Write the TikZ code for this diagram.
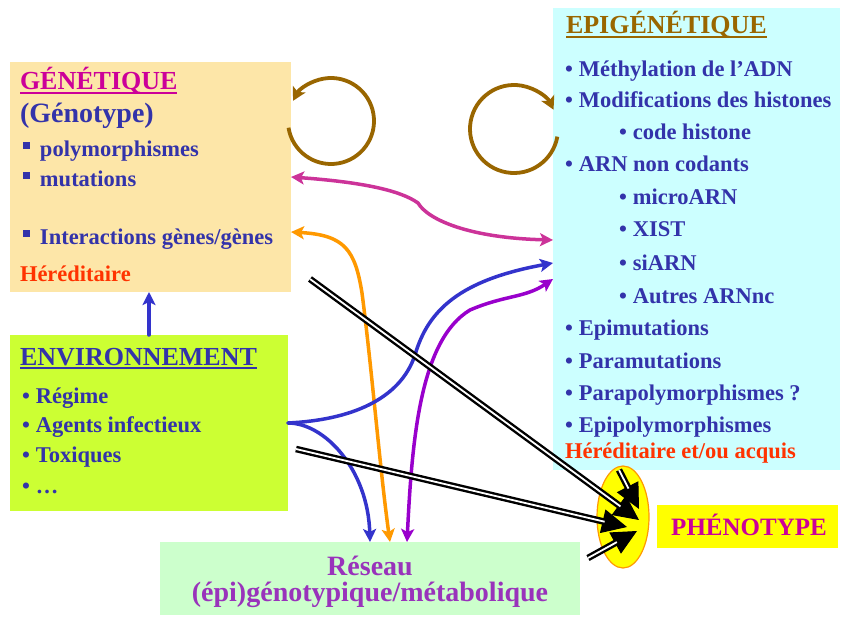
\documentclass[tikz,border=0pt]{standalone}
\usepackage{fontspec}
\setmainfont{Liberation Serif}
\usetikzlibrary{arrows.meta,shapes.geometric,calc}

% box fills
\definecolor{genfill}{RGB}{253,230,168}
\definecolor{epifill}{RGB}{204,255,255}
\definecolor{envfill}{RGB}{204,255,51}
\definecolor{resfill}{RGB}{204,255,204}
\definecolor{phenfill}{RGB}{255,255,0}
% text colours
\definecolor{txtblue}{RGB}{51,51,170}
\definecolor{txtred}{RGB}{255,51,0}
\definecolor{txtmag}{RGB}{204,0,153}
\definecolor{txtbrown}{RGB}{153,102,0}
\definecolor{txtpurple}{RGB}{153,51,187}
% connector colours
\definecolor{arrblue}{RGB}{51,51,204}
\definecolor{arrorange}{RGB}{255,153,0}
\definecolor{arrpink}{RGB}{204,51,153}
\definecolor{arrpurple}{RGB}{153,0,204}
\definecolor{arrbrown}{RGB}{153,102,0}
\definecolor{ellborder}{RGB}{255,153,0}

% fonts
\newcommand\diaghead{\fontsize{26pt}{30pt}\selectfont\bfseries}
\newcommand\diagbig{\fontsize{28pt}{32pt}\selectfont\bfseries}
\newcommand\diagitem{\fontsize{22.5pt}{26pt}\selectfont\bfseries}
\newcommand\diagphen{\fontsize{25pt}{30pt}\selectfont\bfseries}
% bullets
\newcommand\itembul{•\hspace{6pt}}
\newcommand\sqbul{\rule[7.5pt]{7pt}{7pt}\hspace{10pt}}

\tikzset{
  box/.style={anchor=north west, inner sep=0pt, outer sep=0pt, draw=none},
  lbl/.style={anchor=base west, inner sep=0pt, outer sep=0pt},
  clbl/.style={anchor=base, inner sep=0pt, outer sep=0pt},
  ul/.style={line width=1.6pt},
  colarr/.style={line width=3.5pt, line cap=round,
    arrows={-Stealth[length=13pt,width=13pt,inset=3pt]}},
  twoarr/.style={line width=3.5pt,
    arrows={Stealth[length=13pt,width=13pt,inset=3pt]-Stealth[length=13pt,width=13pt,inset=3pt]}},
  loopdir/.style={line width=3.8pt, draw=arrbrown,
    arrows={-Stealth[length=13pt,width=14pt,inset=3pt]}},
  blkhead/.style={line width=1pt, draw=black,
    arrows={-Triangle[length=25pt,width=24pt]}},
  blkline/.style={draw=black, double=white, double distance=1.8pt,
    line width=2.4pt, shorten >=23pt},
}

\begin{document}
\begin{tikzpicture}[x=1pt,y=-1pt]
\useasboundingbox (0,0) rectangle (842,617);
\fill[white] (0,0) rectangle (842,617);

% ---- boxes ----
\node[box, fill=genfill, minimum width=281pt, minimum height=230pt] (gen) at (10,62) {};
\node[box, fill=epifill, minimum width=287pt, minimum height=462pt] (epi) at (553,8) {};
\node[box, fill=envfill, minimum width=278pt, minimum height=176pt] (env) at (10,335) {};
\node[box, fill=resfill, minimum width=420pt, minimum height=73pt] (res) at (160,542) {};
\node[box, fill=phenfill, minimum width=181pt, minimum height=43pt] (phen) at (657,505) {};
\node[ellipse, draw=ellborder, fill=phenfill, line width=1.2pt, inner sep=0pt,
      minimum width=52pt, minimum height=102pt] (ell) at (623,517) {};

% ---- GENETIQUE ----
\node[lbl, font=\diaghead, text=txtmag] (genT) at (20,90) {GÉNÉTIQUE};
\draw[ul, txtmag] ([yshift=-3pt]genT.base west) -- ([yshift=-3pt]genT.base east);
\node[lbl, font=\diagbig, text=txtblue] (genS) at (20,123) {(Génotype)};
\node[lbl, font=\diagitem, text=txtblue] (g1) at (23,157) {\sqbul polymorphismes};
\node[lbl, font=\diagitem, text=txtblue] (g2) at (23,187) {\sqbul mutations};
\node[lbl, font=\diagitem, text=txtblue] (g3) at (23,245) {\sqbul Interactions gènes/gènes};
\node[lbl, font=\diagitem, text=txtred] (g4) at (20,282) {Héréditaire};

% ---- EPIGENETIQUE ----
\node[lbl, font=\diaghead, text=txtbrown] (epiT) at (566,34) {EPIGÉNÉTIQUE};
\draw[ul, txtbrown] ([yshift=-3pt]epiT.base west) -- ([yshift=-3pt]epiT.base east);
\begin{scope}[every node/.style={lbl, font=\diagitem, text=txtblue}]
\node (e1)  at (565,77)  {\itembul Méthylation de l’ADN};
\node (e2)  at (565,108) {\itembul Modifications des histones};
\node (e3)  at (619,140) {\itembul code histone};
\node (e4)  at (565,172) {\itembul ARN non codants};
\node (e5)  at (619,205) {\itembul microARN};
\node (e6)  at (619,237) {\itembul XIST};
\node (e7)  at (619,270) {\itembul siARN};
\node (e8)  at (619,303) {\itembul Autres ARNnc};
\node (e9)  at (565,335) {\itembul Epimutations};
\node (e10) at (565,368) {\itembul Paramutations};
\node (e11) at (565,400) {\itembul Parapolymorphismes ?};
\node (e12) at (565,432) {\itembul Epipolymorphismes};
\end{scope}
\node[lbl, font=\diagitem, text=txtred] (e13) at (565,458) {Héréditaire et/ou acquis};

% ---- ENVIRONNEMENT ----
\node[lbl, font=\diaghead, text=txtblue] (envT) at (20,365) {ENVIRONNEMENT};
\draw[ul, txtblue] ([yshift=-3pt]envT.base west) -- ([yshift=-3pt]envT.base east);
\begin{scope}[every node/.style={lbl, font=\diagitem, text=txtblue}]
\node (v1) at (22,403) {\itembul Régime};
\node (v2) at (22,432) {\itembul Agents infectieux};
\node (v3) at (22,462) {\itembul Toxiques};
\node (v4) at (22,493) {\itembul …};
\end{scope}

% ---- network and phenotype labels ----
\node[clbl, font=\diagbig, text=txtpurple] (r1) at (370,575) {Réseau};
\node[clbl, font=\diagbig, text=txtpurple] (r2) at (370,601) {(épi)génotypique/métabolique};
\node[clbl, font=\diagphen, text=txtmag] (pT) at (749,535) {PHÉNOTYPE};

% ---- self loops ----
\draw[loopdir] (331,121) ++(171:43) arc[start angle=171, end angle=-152, radius=43];
\draw[loopdir] (514,129) ++(10:44) arc[start angle=10, end angle=334, radius=44];

% ---- coloured connectors ----
\draw[colarr, arrblue] (env.north) -- (env.north |- gen.south);
\draw[twoarr, arrpink] (gen.east |- 0,177) .. controls (360,182) and (400,190) .. (418,203)
      .. controls (428,220) and (470,238) .. (epi.west |- 0,240);
\draw[twoarr, arrorange] (gen.east |- 0,232) .. controls (345,235) and (355,250) .. (362,293)
      .. controls (372,370) and (380,470) .. (res.north -| 390,0);
\draw[twoarr, arrpurple] (res.north -| 407,0) .. controls (412,440) and (420,340) .. (470,310)
      .. controls (505,295) and (525,298) .. (epi.west |- 0,279);
\draw[colarr, arrblue] (env.east |- 0,423) .. controls (350,420) and (400,400) .. (415,355)
      .. controls (428,310) and (460,280) .. (epi.west |- 0,263);
\draw[colarr, arrblue] (env.east |- 0,423) .. controls (325,423) and (368,470) .. (res.north -| 370,0);

% ---- striped arrows into the phenotype ----
\coordinate (k1) at (310,279);
\coordinate (k2) at (296,449);
\coordinate (k3) at (epi.south -| 619,0);
\coordinate (k4) at (588,558);
\coordinate (t1) at ([shift={(16,3)}]ell.center);
\coordinate (t2) at ([shift={(4,10)}]ell.center);
\coordinate (t3) at ([shift={(16,-8)}]ell.center);
\coordinate (t4) at ([shift={(14,14)}]ell.center);
\foreach \s/\t in {k1/t1, k2/t2, k3/t3, k4/t4} {
  \draw[blkhead] (\s) -- (\t);
  \draw[blkline] (\s) -- (\t);
}
\end{tikzpicture}
\end{document}
